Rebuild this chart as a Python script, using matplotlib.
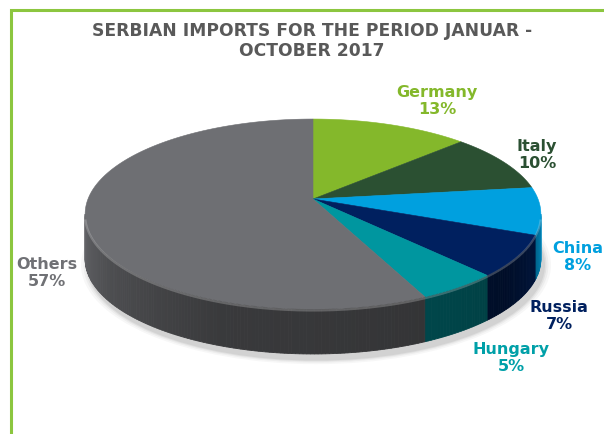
import numpy as np
import matplotlib
matplotlib.use("Agg")
import matplotlib.pyplot as plt
from matplotlib.patches import Polygon, Ellipse
import matplotlib.colors as mcolors

# ---- data ----
countries = ["Germany", "Italy", "China", "Russia", "Hungary", "Others"]
shares = [13, 10, 8, 7, 5, 57]
pct_labels = ["13%", "10%", "8%", "7%", "5%", "57%"]
title = "SERBIAN IMPORTS FOR THE PERIOD JANUAR -\nOCTOBER 2017"

# ---- style ----
colors = ["#84b82b", "#2b5032", "#00a0df", "#00205f", "#00969f", "#6e6f73"]
label_colors = ["#84b82b", "#2b5032", "#00a0df", "#00205f", "#00a0a8", "#707175"]
label_pos = [(437, 101), (537, 155), (578, 257), (559, 316), (511, 358), (47, 273)]

W, H = 604, 435
fig = plt.figure(figsize=(W / 100, H / 100), dpi=100)
ax = fig.add_axes([0, 0, 1, 1])
ax.set_xlim(0, W)
ax.set_ylim(H, 0)
ax.axis("off")

# border (green frame running off the right/bottom edges)
ax.plot([11, 11, W + 5], [H + 5, 11, 11], color="#8cc63f", lw=2.2,
        solid_joinstyle="miter", zorder=1)

ax.text(312, 41, title, ha="center", va="center", fontsize=12.3,
        fontweight="bold", color="#595959", linespacing=1.12,
        family="DejaVu Sans")

# ---- 3D pie geometry ----
cx, cy = 313, 200
A, B = 225, 92.6
p = 0.158
depth = 45


def proj(theta_deg, dz=0.0):
    t = np.radians(theta_deg)
    X = np.sin(t)
    Y = np.cos(t)
    d = 1 + p * Y
    return cx + A * X / d, cy - B * Y / d + dz


def shade(theta):
    return np.interp(theta, [99, 112, 130, 160, 200, 235, 261],
                     [0.88, 0.62, 0.42, 0.48, 0.52, 0.70, 0.90])


vis0 = np.degrees(np.arccos(-p))
vis1 = 360 - vis0

total = float(sum(shares))
bounds = np.concatenate([[0], np.cumsum(shares) / total * 360])

# drop shadow
for grow, al in [(14, 0.03), (9, 0.04), (5, 0.05), (2, 0.06)]:
    ax.add_patch(Ellipse((cx + 3, 217 + depth + 4), 2 * 228 + grow, 190 + grow * 0.6,
                         facecolor="#000000", alpha=al, lw=0, zorder=2))

# side walls
for i in range(len(shares)):
    a0, a1 = bounds[i], bounds[i + 1]
    s0, s1 = max(a0, vis0), min(a1, vis1)
    if s1 <= s0:
        continue
    n = max(2, int((s1 - s0) / 0.8))
    th = np.linspace(s0, s1, n + 1)
    base = np.array(mcolors.to_rgb(colors[i]))
    for k in range(n):
        tt = np.array([th[k], th[k + 1]])
        xt, yt = proj(tt)
        xb, yb = proj(tt, depth)
        f = shade(0.5 * (th[k] + th[k + 1]))
        c = np.clip(base * f, 0, 1)
        poly = Polygon(np.column_stack([np.r_[xt, xb[::-1]], np.r_[yt, yb[::-1]]]),
                       closed=True, facecolor=c, edgecolor=c, lw=0.6, zorder=3)
        ax.add_patch(poly)

# top faces
for i in range(len(shares)):
    a0, a1 = bounds[i], bounds[i + 1]
    th = np.linspace(a0, a1, max(3, int((a1 - a0) * 2)))
    xs, ys = proj(th)
    pts = np.column_stack([np.r_[cx, xs], np.r_[cy, ys]])
    ax.add_patch(Polygon(pts, closed=True, facecolor=colors[i],
                         edgecolor=colors[i], lw=0.4, zorder=4))

# rim highlight
th = np.linspace(vis0 + 3, vis1 - 3, 300)
xr, yr = proj(th, 1.5)
ax.plot(xr, yr, color="white", alpha=0.22, lw=1.6, zorder=5)

# labels
for name, pct, (lx, ly), lc in zip(countries, pct_labels, label_pos, label_colors):
    ax.text(lx, ly, f"{name}\n{pct}", ha="center", va="center", fontsize=11.5,
            fontweight="bold", color=lc, linespacing=1.14, family="DejaVu Sans",
            zorder=6)

fig.savefig("out.png", dpi=100)
